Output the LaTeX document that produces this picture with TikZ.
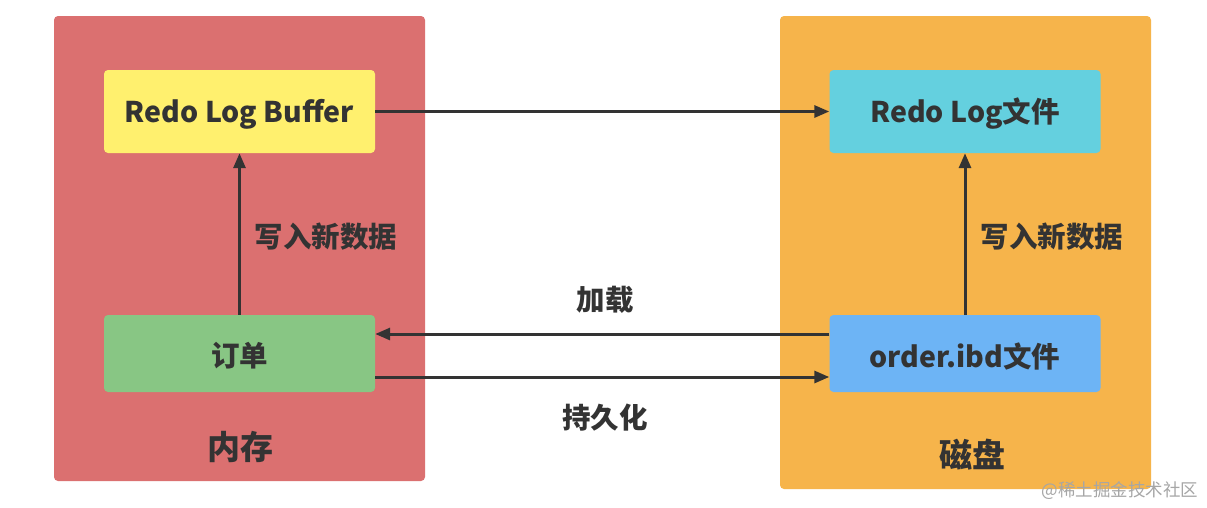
\documentclass[tikz,border=0pt]{standalone}
\usepackage{fontspec}
\setmainfont{Noto Sans CJK SC}
\usetikzlibrary{arrows.meta}
\definecolor{memred}{HTML}{DB7070}
\definecolor{diskor}{HTML}{F6B44B}
\definecolor{bufyel}{HTML}{FFF06E}
\definecolor{logcyan}{HTML}{64D0DF}
\definecolor{ordgreen}{HTML}{88C684}
\definecolor{ibdblue}{HTML}{6DB4F5}
\definecolor{ink}{HTML}{333333}
\tikzset{
  box/.style={draw=none, rounded corners=4pt, minimum width=271pt, minimum height=83pt, inner sep=0pt, text=ink, font=\bfseries\fontsize{28.5}{32}\selectfont},
  boxtext/.style={text=ink, font=\bfseries\fontsize{28.5}{32}\selectfont, inner sep=0pt},
  arr/.style={draw=ink, line width=3pt, -{Triangle[length=15pt,width=12pt]}},
  lbl/.style={text=ink, font=\bfseries\fontsize{28.5}{32}\selectfont, inner sep=0pt},
  title/.style={text=ink, font=\bfseries\fontsize{33}{36}\selectfont, inner sep=0pt}
}
\begin{document}
\begin{tikzpicture}[x=1pt,y=-1pt]
\useasboundingbox (0,0) rectangle (1207,507);
\fill[white] (0,0) rectangle (1207,507);
% containers
\fill[memred, rounded corners=4pt] (54,16) rectangle (425,481);
\fill[diskor, rounded corners=4pt] (780,16) rectangle (1151,489);
% boxes
\node[box, fill=bufyel, minimum height=83pt] (buf) at (239.5,111.5) {};
\node[box, fill=ordgreen, minimum height=77pt] (ord) at (239.5,353.5) {};
\node[box, fill=logcyan, minimum height=83pt] (log) at (965,111.5) {};
\node[box, fill=ibdblue, minimum height=77pt] (ibd) at (965,353.5) {};
\node[boxtext] (buft) at (239.5,114) {Redo Log Buffer};
\node[boxtext] (ordt) at (239.5,356) {订单};
\node[boxtext] (logt) at (965,114) {Redo Log文件};
\node[boxtext] (ibdt) at (965,356) {order.ibd文件};
% titles
\node[title] (mem) at (240,447) {内存};
\node[title] (disk) at (972,455) {磁盘};
% arrows
\draw[arr] (buf.east) -- (log.west);
\draw[arr] (ord.north) -- (buf.south);
\draw[arr] (ibd.north) -- (log.south);
\draw[arr] (ibd.west |- 0,334) -- (ord.east |- 0,334);
\draw[arr] (ord.east |- 0,377) -- (ibd.west |- 0,377);
% labels
\node[lbl] (w1) at (326,237) {写入新数据};
\node[lbl] (w2) at (1052,237) {写入新数据};
\node[lbl] (load) at (605,300) {加载};
\node[lbl] (pers) at (605,418) {持久化};
% watermark
\node[text=black!35, font=\fontsize{17.5}{18}\selectfont, inner sep=0pt] (wm) at (1120,491) {@稀土掘金技术社区};
\end{tikzpicture}
\end{document}
